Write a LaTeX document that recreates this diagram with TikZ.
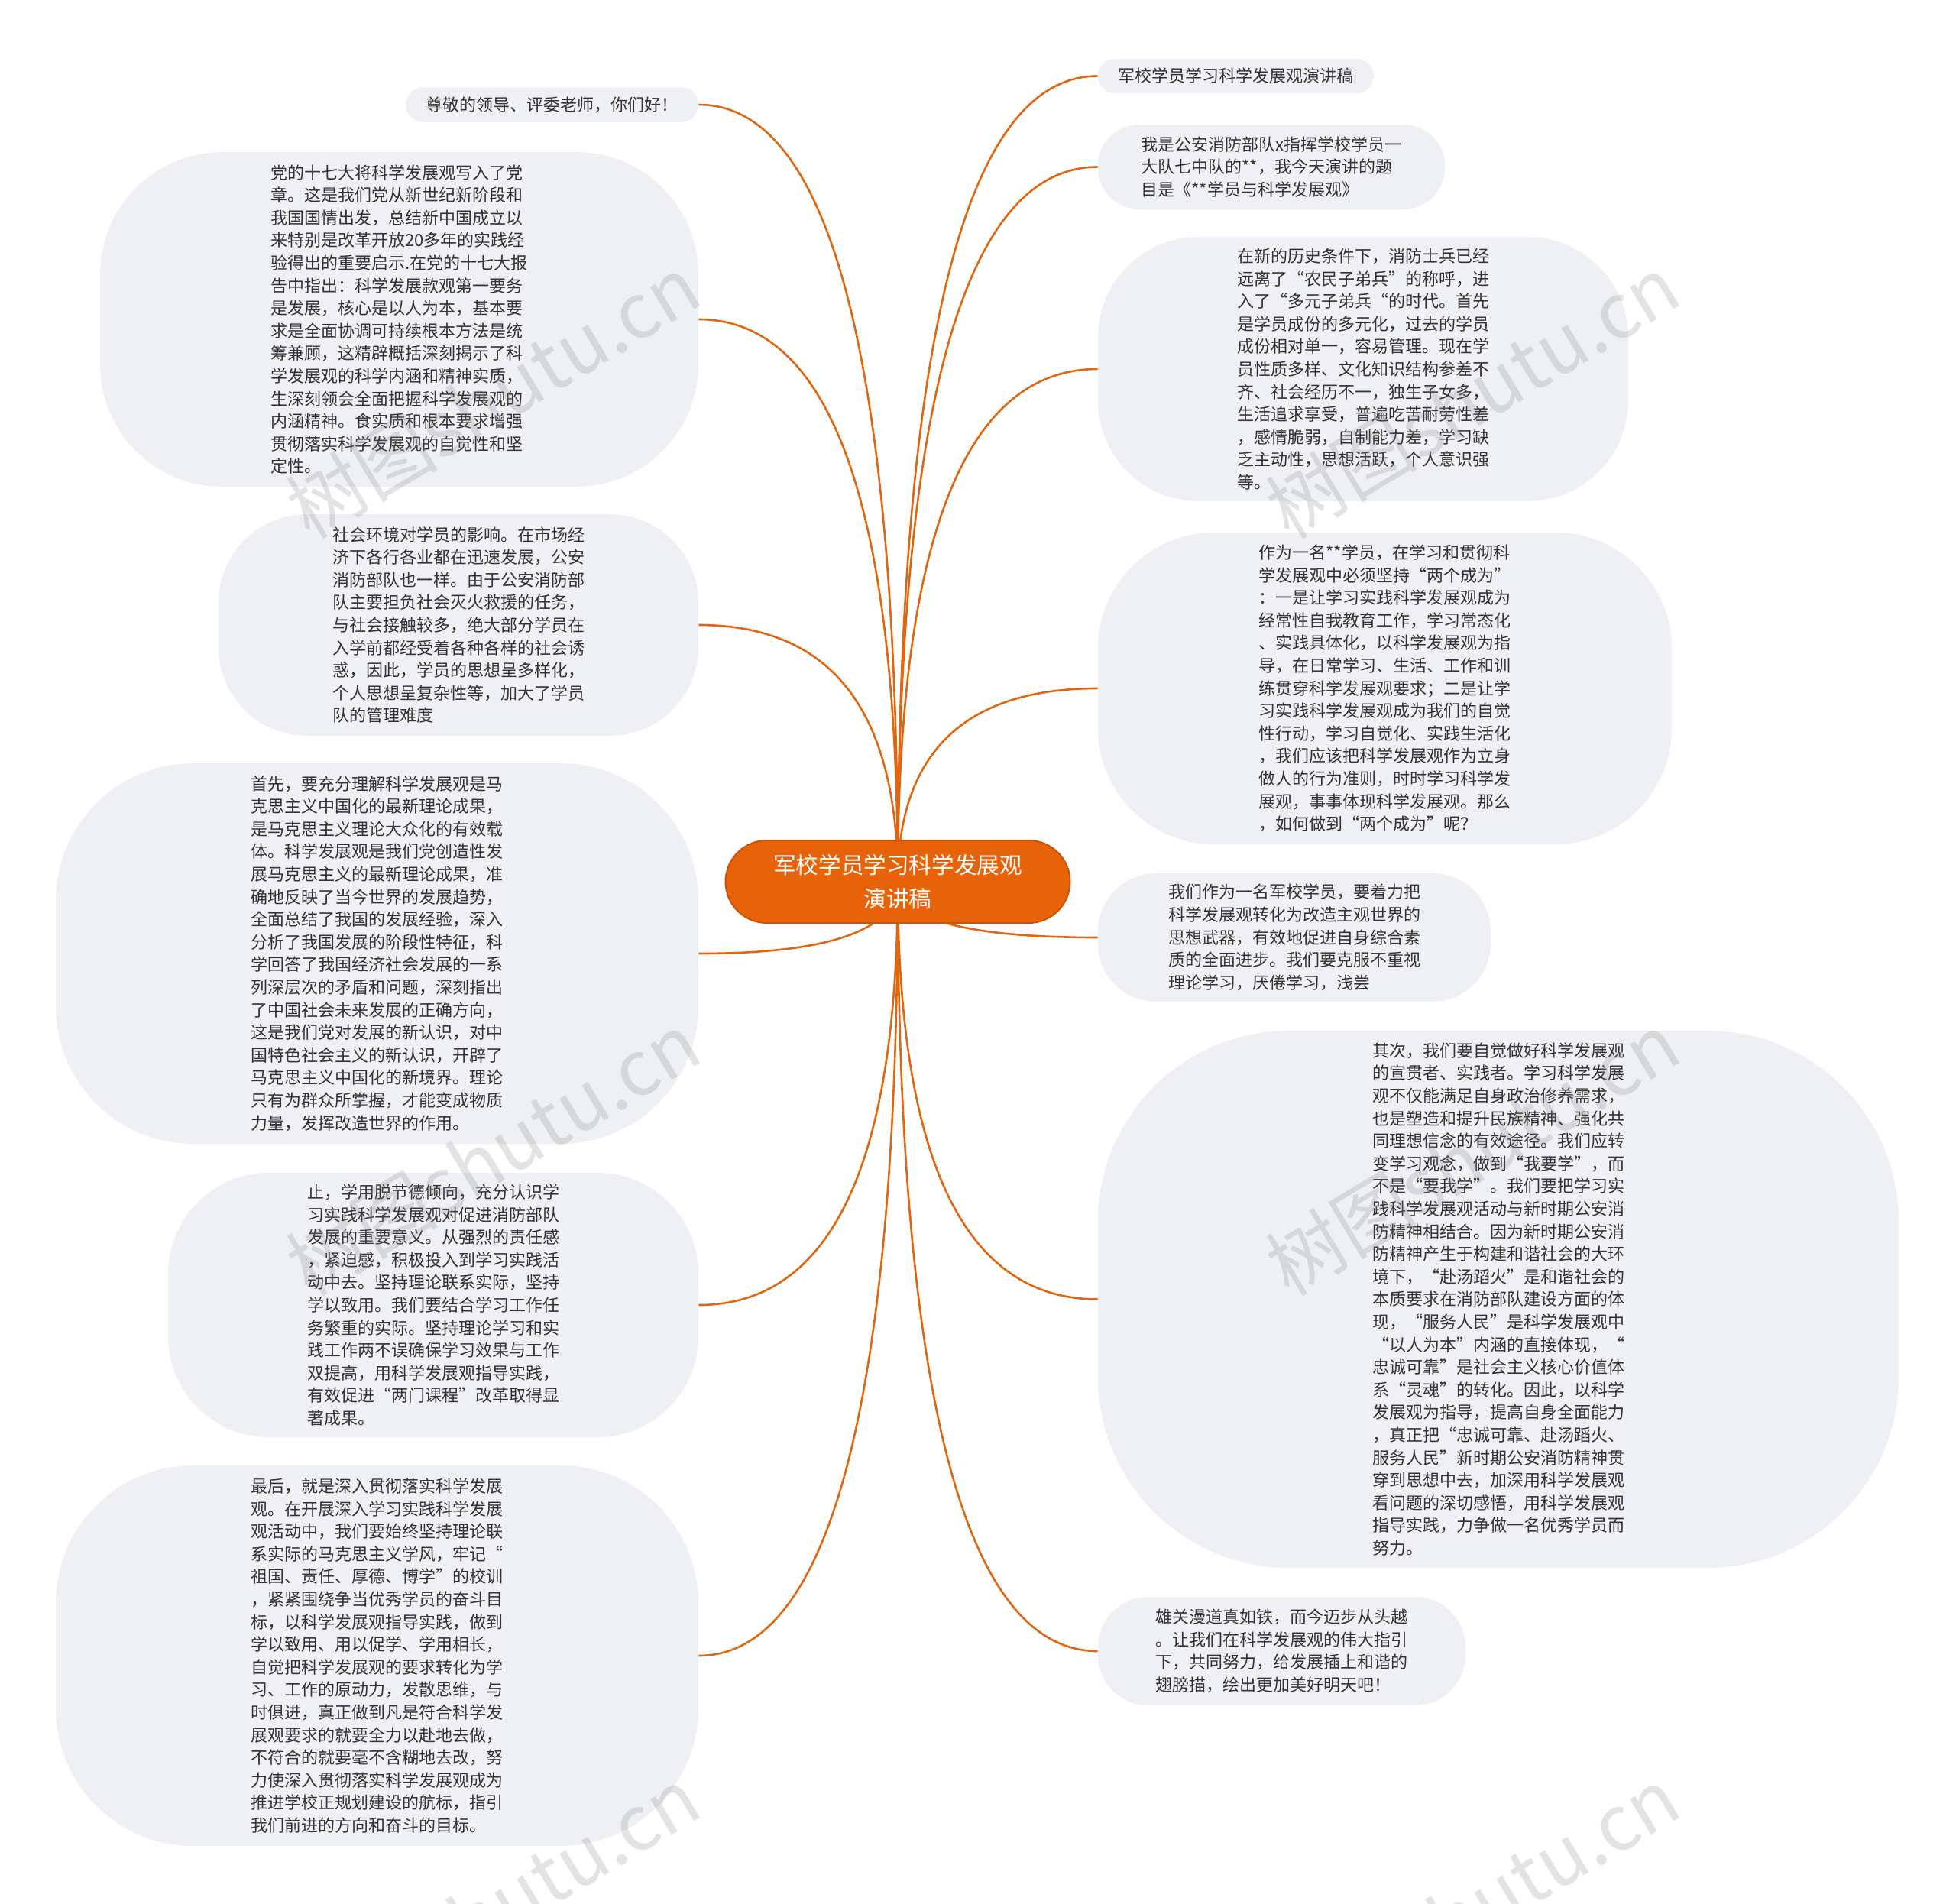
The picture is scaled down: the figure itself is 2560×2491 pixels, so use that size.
\documentclass[tikz,border=0pt]{standalone}
\usepackage{fontspec}
\setmainfont{Noto Sans CJK SC}
\usetikzlibrary{calc,backgrounds}
\definecolor{nodefill}{HTML}{EEF0F3}
\definecolor{linkc}{HTML}{E0660F}
\definecolor{rootfill}{HTML}{E8620A}
\definecolor{rootdraw}{HTML}{C9530A}
\definecolor{txt}{HTML}{333333}
\tikzset{
  leaf/.style={rectangle, fill=nodefill, inner sep=0pt, align=left, text=txt, font=\fontsize{11}{14.8}\selectfont},
  rootbox/.style={rectangle, fill=rootfill, draw=rootdraw, line width=1pt, inner sep=0pt, align=center, text=white, font=\fontsize{14.8}{22}\selectfont, minimum width=225.5pt, minimum height=54pt, rounded corners=27pt},
  conn/.style={draw=linkc, line width=1.3pt},
  wm/.style={text=gray, opacity=0.22, font=\fontsize{50}{50}\selectfont, rotate=31, inner sep=0pt}
}
% #1 = target node, #2 = anchor
\newcommand\mmlink[2]{%
  \coordinate (q#1) at (root.center |- #1.#2);
  \draw[conn] (root.center) .. controls ($(root.center)!0.6667!(q#1)$) and ($(#1.#2)!0.6667!(q#1)$) .. (#1.#2);}
\begin{document}
\begin{tikzpicture}[x=0.5pt, y=-0.5pt]
\useasboundingbox (0,0) rectangle (2560,2491);

\node[rootbox] (root) at (1175,1154) {军校学员学习科学发展观\\演讲稿};

% left nodes
\node[leaf, minimum width=191.5pt, minimum height=23pt, rounded corners=11.5pt] (L1) at (722.5,137) {尊敬的领导、评委老师，你们好！};
\node[leaf, minimum width=391.5pt, minimum height=219pt, rounded corners=80pt] (L2) at (522.5,418) {党的十七大将科学发展观写入了党\\章。这是我们党从新世纪新阶段和\\我国国情出发，总结新中国成立以\\来特别是改革开放20多年的实践经\\验得出的重要启示.在党的十七大报\\告中指出：科学发展款观第一要务\\是发展，核心是以人为本，基本要\\求是全面协调可持续根本方法是统\\筹兼顾，这精辟概括深刻揭示了科\\学发展观的科学内涵和精神实质，\\生深刻领会全面把握科学发展观的\\内涵精神。食实质和根本要求增强\\贯彻落实科学发展观的自觉性和坚\\定性。};
\node[leaf, minimum width=314pt, minimum height=145pt, rounded corners=58pt] (L3) at (600,818) {社会环境对学员的影响。在市场经\\济下各行各业都在迅速发展，公安\\消防部队也一样。由于公安消防部\\队主要担负社会灭火救援的任务，\\与社会接触较多，绝大部分学员在\\入学前都经受着各种各样的社会诱\\惑，因此，学员的思想呈多样化，\\个人思想呈复杂性等，加大了学员\\队的管理难度};
\node[leaf, minimum width=420.5pt, minimum height=249pt, rounded corners=90pt] (L4) at (493.5,1248) {首先，要充分理解科学发展观是马\\克思主义中国化的最新理论成果，\\是马克思主义理论大众化的有效载\\体。科学发展观是我们党创造性发\\展马克思主义的最新理论成果，准\\确地反映了当今世界的发展趋势，\\全面总结了我国的发展经验，深入\\分析了我国发展的阶段性特征，科\\学回答了我国经济社会发展的一系\\列深层次的矛盾和问题，深刻指出\\了中国社会未来发展的正确方向，\\这是我们党对发展的新认识，对中\\国特色社会主义的新认识，开辟了\\马克思主义中国化的新境界。理论\\只有为群众所掌握，才能变成物质\\力量，发挥改造世界的作用。};
\node[leaf, minimum width=347pt, minimum height=173pt, rounded corners=66pt] (L5) at (567,1708) {止，学用脱节德倾向，充分认识学\\习实践科学发展观对促进消防部队\\发展的重要意义。从强烈的责任感\\，紧迫感，积极投入到学习实践活\\动中去。坚持理论联系实际，坚持\\学以致用。我们要结合学习工作任\\务繁重的实际。坚持理论学习和实\\践工作两不误确保学习效果与工作\\双提高，用科学发展观指导实践，\\有效促进“两门课程”改革取得显\\著成果。};
\node[leaf, minimum width=420.5pt, minimum height=249pt, rounded corners=90pt] (L6) at (493.5,2167) {最后，就是深入贯彻落实科学发展\\观。在开展深入学习实践科学发展\\观活动中，我们要始终坚持理论联\\系实际的马克思主义学风，牢记“\\祖国、责任、厚德、博学”的校训\\，紧紧围绕争当优秀学员的奋斗目\\标，以科学发展观指导实践，做到\\学以致用、用以促学、学用相长，\\自觉把科学发展观的要求转化为学\\习、工作的原动力，发散思维，与\\时俱进，真正做到凡是符合科学发\\展观要求的就要全力以赴地去做，\\不符合的就要毫不含糊地去改，努\\力使深入贯彻落实科学发展观成为\\推进学校正规划建设的航标，指引\\我们前进的方向和奋斗的目标。};

% right nodes
\node[leaf, minimum width=180.5pt, minimum height=22.5pt, rounded corners=11.25pt] (R1) at (1617.5,99.5) {军校学员学习科学发展观演讲稿};
\node[leaf, minimum width=227pt, minimum height=55.5pt, rounded corners=27pt] (R2) at (1664,218.5) {我是公安消防部队x指挥学校学员一\\大队七中队的**，我今天演讲的题\\目是《**学员与科学发展观》};
\node[leaf, minimum width=347pt, minimum height=173pt, rounded corners=66pt] (R3) at (1784,483) {在新的历史条件下，消防士兵已经\\远离了“农民子弟兵”的称呼，进\\入了“多元子弟兵“的时代。首先\\是学员成份的多元化，过去的学员\\成份相对单一，容易管理。现在学\\员性质多样、文化知识结构参差不\\齐、社会经历不一，独生子女多，\\生活追求享受，普遍吃苦耐劳性差\\，感情脆弱，自制能力差，学习缺\\乏主动性，思想活跃，个人意识强\\等。};
\node[leaf, minimum width=375.5pt, minimum height=204pt, rounded corners=76pt] (R4) at (1812.5,901) {作为一名**学员，在学习和贯彻科\\学发展观中必须坚持“两个成为”\\：一是让学习实践科学发展观成为\\经常性自我教育工作，学习常态化\\、实践具体化，以科学发展观为指\\导，在日常学习、生活、工作和训\\练贯穿科学发展观要求；二是让学\\习实践科学发展观成为我们的自觉\\性行动，学习自觉化、实践生活化\\，我们应该把科学发展观作为立身\\做人的行为准则，时时学习科学发\\展观，事事体现科学发展观。那么\\，如何做到“两个成为”呢？};
\node[leaf, minimum width=257pt, minimum height=84pt, rounded corners=38pt] (R5) at (1694,1227) {我们作为一名军校学员，要着力把\\科学发展观转化为改造主观世界的\\思想武器，有效地促进自身综合素\\质的全面进步。我们要克服不重视\\理论学习，厌倦学习，浅尝};
\node[leaf, minimum width=524pt, minimum height=351.5pt, rounded corners=125pt] (R6) at (1961,1700.5) {其次，我们要自觉做好科学发展观\\的宣贯者、实践者。学习科学发展\\观不仅能满足自身政治修养需求，\\也是塑造和提升民族精神、强化共\\同理想信念的有效途径。我们应转\\变学习观念，做到“我要学”，而\\不是“要我学”。我们要把学习实\\践科学发展观活动与新时期公安消\\防精神相结合。因为新时期公安消\\防精神产生于构建和谐社会的大环\\境下，“赴汤蹈火”是和谐社会的\\本质要求在消防部队建设方面的体\\现，“服务人民”是科学发展观中\\“以人为本”内涵的直接体现，“\\忠诚可靠”是社会主义核心价值体\\系“灵魂”的转化。因此，以科学\\发展观为指导，提高自身全面能力\\，真正把“忠诚可靠、赴汤蹈火、\\服务人民”新时期公安消防精神贯\\穿到思想中去，加深用科学发展观\\看问题的深切感悟，用科学发展观\\指导实践，力争做一名优秀学员而\\努力。};
\node[leaf, minimum width=240.5pt, minimum height=71pt, rounded corners=33pt] (R7) at (1677.5,2161) {雄关漫道真如铁，而今迈步从头越\\。让我们在科学发展观的伟大指引\\下，共同努力，给发展插上和谐的\\翅膀描，绘出更加美好明天吧！};

% connectors
\begin{scope}[on background layer]
\fill[white] (0,0) rectangle (2560,2491);
\mmlink{L1}{east}
\mmlink{L2}{east}
\mmlink{L3}{east}
\mmlink{L4}{east}
\mmlink{L5}{east}
\mmlink{L6}{east}
\mmlink{R1}{west}
\mmlink{R2}{west}
\mmlink{R3}{west}
\mmlink{R4}{west}
\mmlink{R5}{west}
\mmlink{R6}{west}
\mmlink{R7}{west}
\end{scope}

% watermark
\node[wm] (w1) at (645,519) {树图shutu.cn};
\node[wm] (w2) at (1927,519) {树图shutu.cn};
\node[wm] (w3) at (645,1510) {树图shutu.cn};
\node[wm] (w4) at (1927,1510) {树图shutu.cn};
\node[wm] (w5) at (645,2498) {树图shutu.cn};
\node[wm] (w6) at (1927,2498) {树图shutu.cn};
\end{tikzpicture}
\end{document}
